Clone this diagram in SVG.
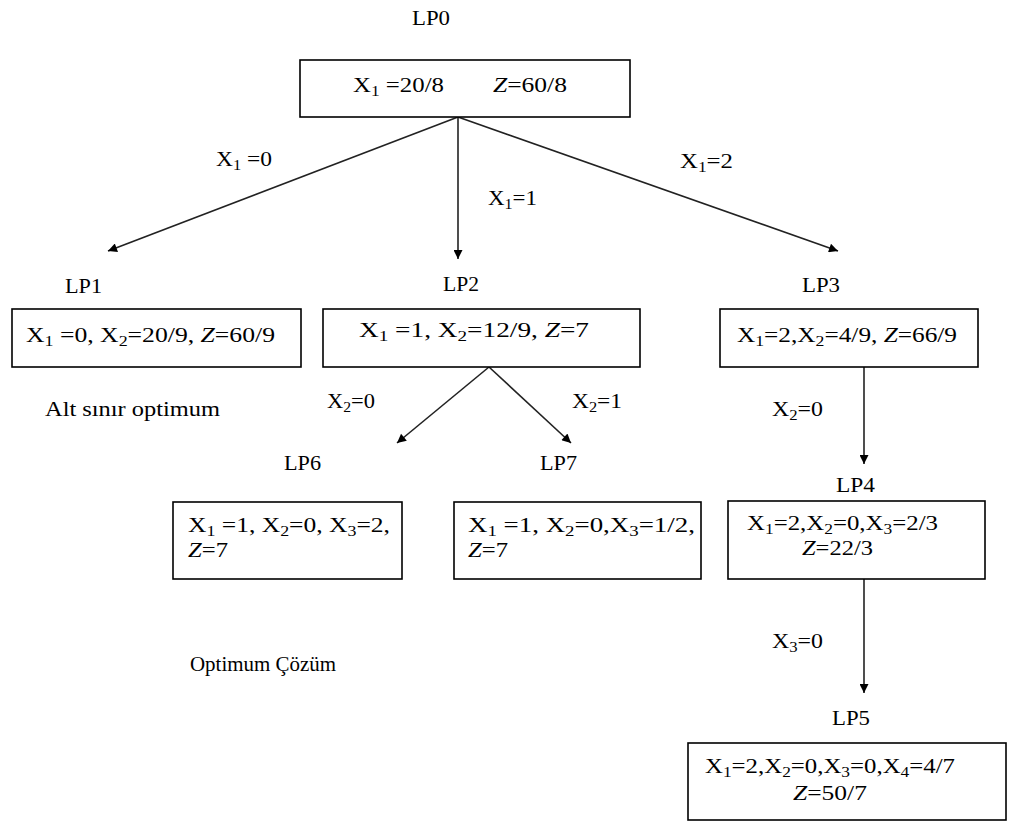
<svg xmlns="http://www.w3.org/2000/svg" width="1013" height="825" viewBox="0 0 1013 825">
<style>
text{font-family:"Liberation Serif","Times New Roman",serif;font-size:20px;fill:#000}
.s{font-size:14px}
.b{fill:#fff;stroke:#000;stroke-width:1.6}
.c{stroke:#222;stroke-width:1.6;fill:none;marker-end:url(#ah)}
.z{font-style:italic}
</style>
<defs>
<marker id="ah" viewBox="0 0 10 10" refX="10" refY="5" markerWidth="11" markerHeight="9" markerUnits="userSpaceOnUse" orient="auto"><path d="M0,0 L10,5 L0,10 z" fill="#000"/></marker>
</defs>
<rect width="1013" height="825" fill="#fff"/>
<g id="connectors">
<line class="c" x1="458" y1="117" x2="108" y2="251"/>
<line class="c" x1="458" y1="117" x2="458" y2="259"/>
<line class="c" x1="458" y1="117" x2="838" y2="251"/>
<line class="c" x1="489" y1="367" x2="397" y2="443"/>
<line class="c" x1="489" y1="367" x2="571" y2="443"/>
<line class="c" x1="864" y1="347" x2="864" y2="464"/>
<line class="c" x1="864" y1="579" x2="864" y2="693"/>
<text x="216" y="166" textLength="56" lengthAdjust="spacingAndGlyphs">X<tspan class="s" dy="4">1</tspan><tspan dy="-4"> =0</tspan></text>
<text x="488" y="205" textLength="49" lengthAdjust="spacingAndGlyphs">X<tspan class="s" dy="4">1</tspan><tspan dy="-4">=1</tspan></text>
<text x="680" y="168" textLength="53" lengthAdjust="spacingAndGlyphs">X<tspan class="s" dy="4">1</tspan><tspan dy="-4">=2</tspan></text>
<text x="327" y="408" textLength="48" lengthAdjust="spacingAndGlyphs">X<tspan class="s" dy="4">2</tspan><tspan dy="-4">=0</tspan></text>
<text x="572" y="408" textLength="50" lengthAdjust="spacingAndGlyphs">X<tspan class="s" dy="4">2</tspan><tspan dy="-4">=1</tspan></text>
<text x="772" y="416" textLength="51" lengthAdjust="spacingAndGlyphs">X<tspan class="s" dy="4">2</tspan><tspan dy="-4">=0</tspan></text>
<text x="772" y="648" textLength="51" lengthAdjust="spacingAndGlyphs">X<tspan class="s" dy="4">3</tspan><tspan dy="-4">=0</tspan></text>
</g>
<g id="LP0">
<text x="412" y="25" textLength="38" lengthAdjust="spacingAndGlyphs">LP0</text>
<rect class="b" x="300" y="60" width="330" height="57"/>
<text x="353" y="92" textLength="91" lengthAdjust="spacingAndGlyphs">X<tspan class="s" dy="4">1</tspan><tspan dy="-4"> =20/8</tspan></text>
<text x="493" y="92" textLength="74" lengthAdjust="spacingAndGlyphs"><tspan class="z">Z</tspan>=60/8</text>
</g>
<g id="LP1">
<text x="65" y="293" textLength="37" lengthAdjust="spacingAndGlyphs">LP1</text>
<rect class="b" x="12" y="309" width="289" height="58"/>
<text x="26" y="342" textLength="249" lengthAdjust="spacingAndGlyphs">X<tspan class="s" dy="4">1</tspan><tspan dy="-4"> =0,  X</tspan><tspan class="s" dy="4">2</tspan><tspan dy="-4">=20/9, </tspan><tspan class="z">Z</tspan>=60/9</text>
</g>
<g id="LP2">
<text x="443" y="291" textLength="36" lengthAdjust="spacingAndGlyphs">LP2</text>
<rect class="b" x="323" y="309" width="317" height="58"/>
<text x="359" y="337" textLength="230" lengthAdjust="spacingAndGlyphs">X<tspan class="s" dy="4">1</tspan><tspan dy="-4"> =1,  X</tspan><tspan class="s" dy="4">2</tspan><tspan dy="-4">=12/9, </tspan><tspan class="z">Z</tspan>=7</text>
</g>
<g id="LP3">
<text x="802" y="292" textLength="38" lengthAdjust="spacingAndGlyphs">LP3</text>
<rect class="b" x="720" y="309" width="258" height="58"/>
<text x="737" y="342" textLength="220" lengthAdjust="spacingAndGlyphs">X<tspan class="s" dy="4">1</tspan><tspan dy="-4">=2,X</tspan><tspan class="s" dy="4">2</tspan><tspan dy="-4">=4/9, </tspan><tspan class="z">Z</tspan>=66/9</text>
</g>
<g id="note1"><text x="45" y="416" textLength="175" lengthAdjust="spacingAndGlyphs">Alt sınır optimum</text></g>
<g id="LP6">
<text x="284" y="470" textLength="37" lengthAdjust="spacingAndGlyphs">LP6</text>
<rect class="b" x="173" y="502" width="229" height="77"/>
<text x="188" y="532" textLength="202" lengthAdjust="spacingAndGlyphs">X<tspan class="s" dy="4">1</tspan><tspan dy="-4"> =1,  X</tspan><tspan class="s" dy="4">2</tspan><tspan dy="-4">=0, X</tspan><tspan class="s" dy="4">3</tspan><tspan dy="-4">=2,</tspan></text>
<text x="188" y="557" textLength="40" lengthAdjust="spacingAndGlyphs"><tspan class="z">Z</tspan>=7</text>
</g>
<g id="LP7">
<text x="540" y="470" textLength="37" lengthAdjust="spacingAndGlyphs">LP7</text>
<rect class="b" x="454" y="502" width="247" height="77"/>
<text x="468" y="532" textLength="227" lengthAdjust="spacingAndGlyphs">X<tspan class="s" dy="4">1</tspan><tspan dy="-4"> =1,  X</tspan><tspan class="s" dy="4">2</tspan><tspan dy="-4">=0,X</tspan><tspan class="s" dy="4">3</tspan><tspan dy="-4">=1/2,</tspan></text>
<text x="468" y="557" textLength="40" lengthAdjust="spacingAndGlyphs"><tspan class="z">Z</tspan>=7</text>
</g>
<g id="LP4">
<text x="836" y="492" textLength="39" lengthAdjust="spacingAndGlyphs">LP4</text>
<rect class="b" x="728" y="501" width="257" height="78"/>
<text x="747" y="530" textLength="191" lengthAdjust="spacingAndGlyphs">X<tspan class="s" dy="4">1</tspan><tspan dy="-4">=2,X</tspan><tspan class="s" dy="4">2</tspan><tspan dy="-4">=0,X</tspan><tspan class="s" dy="4">3</tspan><tspan dy="-4">=2/3</tspan></text>
<text x="802" y="555" textLength="71" lengthAdjust="spacingAndGlyphs"><tspan class="z">Z</tspan>=22/3</text>
</g>
<g id="note2"><text x="190" y="671" textLength="146" lengthAdjust="spacingAndGlyphs">Optimum Çözüm</text></g>
<g id="LP5">
<text x="832" y="725" textLength="38" lengthAdjust="spacingAndGlyphs">LP5</text>
<rect class="b" x="688" y="743" width="318" height="77"/>
<text x="705" y="773" textLength="250" lengthAdjust="spacingAndGlyphs">X<tspan class="s" dy="4">1</tspan><tspan dy="-4">=2,X</tspan><tspan class="s" dy="4">2</tspan><tspan dy="-4">=0,X</tspan><tspan class="s" dy="4">3</tspan><tspan dy="-4">=0,X</tspan><tspan class="s" dy="4">4</tspan><tspan dy="-4">=4/7</tspan></text>
<text x="793" y="800" textLength="74" lengthAdjust="spacingAndGlyphs"><tspan class="z">Z</tspan>=50/7</text>
</g>
</svg>
